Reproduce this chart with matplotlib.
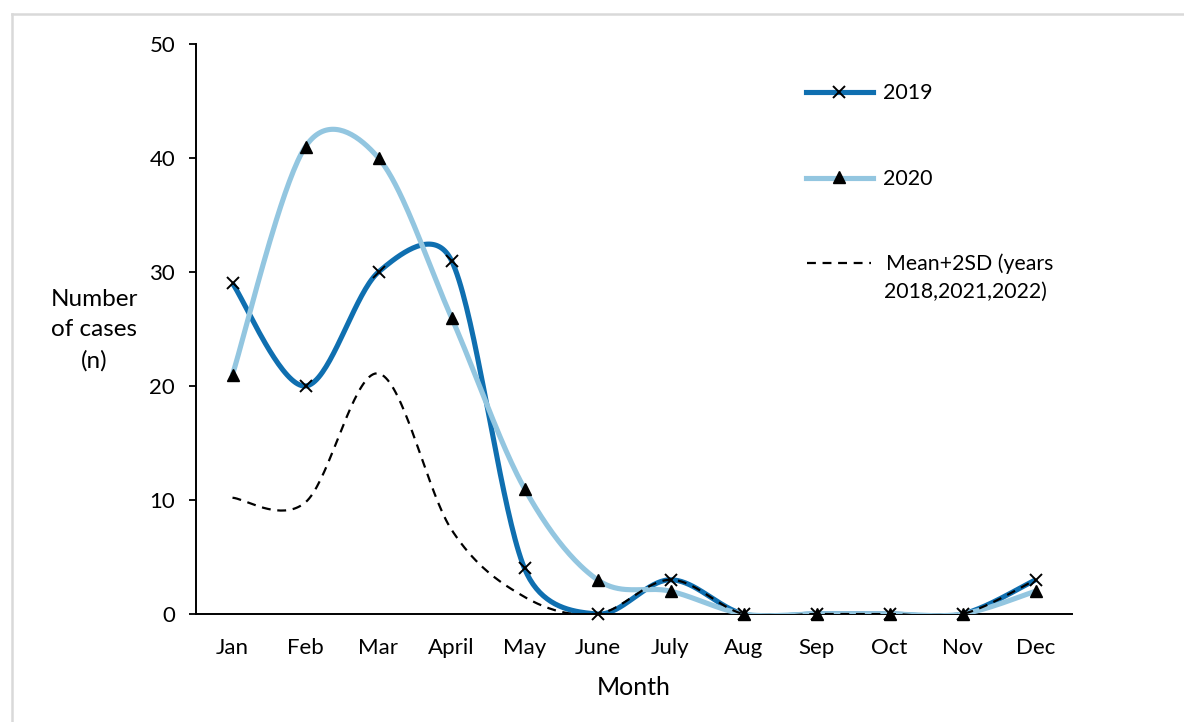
import numpy as np
import matplotlib
matplotlib.use("Agg")
import matplotlib.pyplot as plt
from matplotlib.lines import Line2D

months = ["Jan", "Feb", "Mar", "April", "May", "June", "July", "Aug", "Sep", "Oct", "Nov", "Dec"]
cases_2019 = [29, 20, 30, 31, 4, 0, 3, 0, 0, 0, 0, 3]
cases_2020 = [21, 41, 40, 26, 11, 3, 2, 0, 0, 0, 0, 2]
mean_2sd = [10.2, 9.8, 21.1, 7.4, 1.5, 0, 3, 0, 0, 0, 0, 3]
y_ticks = [0, 10, 20, 30, 40, 50]

plt.rcParams['font.family'] = ['Lato', 'DejaVu Sans']


def smooth(ax, yvals, n=40):
    """Excel-like smoothed line: Bezier segments with tension 1/6,
    arms clamped to half the adjacent segment length (in screen space)."""
    y = np.asarray(yvals, dtype=float)
    x = np.arange(len(y), dtype=float)
    P = ax.transData.transform(np.column_stack([x, y]))
    m = len(P)
    out = []
    t = np.linspace(0, 1, n)[:, None]
    for i in range(m - 1):
        p0 = P[i]
        p3 = P[i + 1]
        seg_len = np.linalg.norm(p3 - p0)
        prev = P[i - 1] if i > 0 else P[i]
        nxt = P[i + 2] if i + 2 < m else P[i + 1]
        d1 = (p3 - prev) / 6.0
        d2 = (nxt - p0) / 6.0
        l1 = np.linalg.norm(d1)
        l2 = np.linalg.norm(d2)
        if l1 > seg_len / 2 and l1 > 0:
            d1 *= (seg_len / 2) / l1
        if l2 > seg_len / 2 and l2 > 0:
            d2 *= (seg_len / 2) / l2
        b1 = p0 + d1
        b2 = p3 - d2
        seg = ((1 - t) ** 3) * p0 + 3 * ((1 - t) ** 2) * t * b1 + 3 * (1 - t) * t ** 2 * b2 + t ** 3 * p3
        out.append(seg if i == 0 else seg[1:])
    s = ax.transData.inverted().transform(np.vstack(out))
    return s[:, 0], s[:, 1]


W, H = 1184, 722
fig = plt.figure(figsize=(W / 100, H / 100), dpi=100)


def fx(px):
    return px / W


def fy(py):
    return 1 - py / H


# light frame: top and left edges only
fig.lines.append(Line2D([fx(11.5), 1], [fy(13.5), fy(13.5)], color='#d9d9d9', lw=1.8, transform=fig.transFigure))
fig.lines.append(Line2D([fx(11.5), fx(11.5)], [0, fy(13.5)], color='#d9d9d9', lw=1.8, transform=fig.transFigure))

ax = fig.add_axes([196 / W, 1 - 614 / H, 876 / W, 570 / H])
ax.set_xlim(-0.5, 11.5)
ax.set_ylim(0, 50)

dark = '#0f6fb0'
light = '#93c6e0'

x = np.arange(len(months))
sx, sy = smooth(ax, cases_2019)
ax.plot(sx, sy, color=dark, lw=3.7, solid_capstyle='butt', zorder=2)
sx, sy = smooth(ax, cases_2020)
ax.plot(sx, sy, color=light, lw=3.7, solid_capstyle='butt', zorder=3)
sx, sy = smooth(ax, mean_2sd)
ax.plot(sx, sy, color='black', lw=1.6, dashes=(4, 3), zorder=4)

ax.plot(x, cases_2019, linestyle='none', marker='x', markersize=9, markeredgewidth=1.4,
        color='black', zorder=6, clip_on=False)
ax.plot(x, cases_2020, linestyle='none', marker='^', markersize=8.5, color='black', zorder=5, clip_on=False)

ax.set_xlim(-0.5, 11.5)
ax.set_ylim(0, 50)
ax.set_yticks(y_ticks)
ax.set_xticks(x)
ax.set_xticklabels(months)
ax.tick_params(axis='x', length=0, pad=17, labelsize=16)
ax.tick_params(axis='y', length=5, width=1.3, pad=10, labelsize=16, direction='out')
for s in ['top', 'right']:
    ax.spines[s].set_visible(False)
ax.spines['left'].set_linewidth(1.4)
ax.spines['bottom'].set_linewidth(1.4)

ax.set_xlabel('Month', fontsize=18, labelpad=13)
fig.text(94 / W, 1 - 330 / H, 'Number\nof cases\n(n)', ha='center', va='center', fontsize=17.5,
         linespacing=1.55)

# legend (manual placement)
fig.lines.append(Line2D([fx(806), fx(873)], [fy(92), fy(92)], color=dark, lw=3.7, transform=fig.transFigure))
fig.lines.append(Line2D([fx(839)], [fy(92)], marker='x', markersize=9, markeredgewidth=1.4, color='black',
                        transform=fig.transFigure))
fig.text(fx(883), fy(93), '2019', fontsize=15.5, va='center', ha='left')

fig.lines.append(Line2D([fx(806), fx(873)], [fy(178), fy(178)], color=light, lw=3.7, transform=fig.transFigure))
fig.lines.append(Line2D([fx(839)], [fy(177)], marker='^', markersize=8.5, color='black',
                        transform=fig.transFigure))
fig.text(fx(883), fy(179), '2020', fontsize=15.5, va='center', ha='left')

fig.lines.append(Line2D([fx(807), fx(871)], [fy(263), fy(263)], color='black', lw=1.6, dashes=(4, 3),
                        transform=fig.transFigure))
fig.text(fx(886), fy(264), 'Mean+2SD (years', fontsize=15.3, va='center', ha='left')
fig.text(fx(1047), fy(292), '2018,2021,2022)', fontsize=15.3, va='center', ha='right')

fig.savefig('out.png', dpi=100)
